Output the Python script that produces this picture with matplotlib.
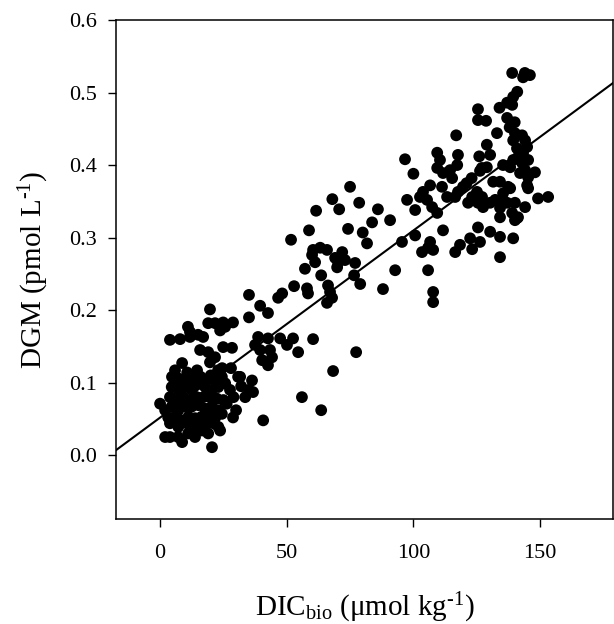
"""
DGM vs DIC_bio scatter with regression line
"""

import numpy as np
import matplotlib
matplotlib.use('Agg')
import matplotlib.pyplot as plt

# low DIC_bio cluster (x, y)
low_points = [
    (35.1, 0.221), (46.6, 0.217), (19.7, 0.201), (39.5, 0.206), (42.6, 0.196), (35.1, 0.190),
    (19.0, 0.182), (21.7, 0.182), (24.9, 0.183), (28.8, 0.183), (25.7, 0.177), (23.7, 0.172),
    (11.0, 0.177), (11.8, 0.170), (3.9, 0.159), (7.9, 0.160), (11.8, 0.163), (15.0, 0.166),
    (17.0, 0.163), (38.7, 0.163), (42.6, 0.161), (37.5, 0.152), (39.5, 0.145), (43.4, 0.145),
    (44.2, 0.135), (40.3, 0.131), (42.6, 0.124), (15.8, 0.145), (19.0, 0.142), (24.9, 0.149),
    (28.4, 0.148), (21.7, 0.135), (19.7, 0.128), (22.9, 0.117), (8.7, 0.127), (5.9, 0.117),
    (4.7, 0.108), (7.1, 0.106), (10.7, 0.114), (14.6, 0.117), (13.8, 0.106), (31.6, 0.108),
    (36.3, 0.103), (36.7, 0.087), (33.6, 0.080), (6.0, 0.100), (9.0, 0.103), (12.0, 0.100),
    (16.0, 0.108), (18.0, 0.104), (20.0, 0.110), (22.0, 0.100), (24.5, 0.120), (28.0, 0.120),
    (30.8, 0.108), (4.6, 0.094), (7.2, 0.090), (9.9, 0.094), (12.5, 0.090), (15.1, 0.099),
    (17.8, 0.094), (20.4, 0.090), (23.0, 0.094), (24.4, 0.108), (25.7, 0.099), (3.9, 0.080),
    (6.6, 0.076), (9.2, 0.080), (11.8, 0.076), (14.5, 0.080), (17.1, 0.080), (19.7, 0.080),
    (22.4, 0.078), (25.0, 0.076), (27.6, 0.090), (29.0, 0.080), (4.6, 0.067), (7.2, 0.062),
    (9.9, 0.067), (12.5, 0.067), (15.1, 0.069), (17.8, 0.064), (20.4, 0.067), (23.0, 0.062),
    (26.3, 0.071), (5.9, 0.053), (8.6, 0.048), (11.2, 0.053), (13.8, 0.051), (16.4, 0.053),
    (19.1, 0.055), (21.7, 0.051), (24.4, 0.057), (3.9, 0.044), (7.2, 0.039), (10.5, 0.044),
    (13.2, 0.039), (15.8, 0.041), (18.4, 0.044), (21.1, 0.044), (23.0, 0.039), (0.0, 0.071),
    (2.0, 0.062), (3.2, 0.052), (2.0, 0.025), (3.9, 0.025), (7.1, 0.025), (8.7, 0.018),
    (11.1, 0.030), (13.8, 0.025), (16.6, 0.034), (19.0, 0.030), (23.7, 0.034), (20.5, 0.011),
    (28.8, 0.052), (40.7, 0.048), (32.0, 0.095), (35.0, 0.090), (30.0, 0.062),
]

# middle cluster
mid_points = [
    (75.0, 0.370), (68.0, 0.353), (78.6, 0.348), (61.6, 0.337), (70.7, 0.339), (86.0, 0.339),
    (90.8, 0.324), (83.7, 0.321), (58.8, 0.310), (74.2, 0.312), (80.0, 0.307), (81.7, 0.292),
    (51.7, 0.297), (60.4, 0.283), (63.2, 0.286), (65.9, 0.283), (60.0, 0.276), (61.2, 0.266),
    (69.1, 0.272), (71.9, 0.280), (70.3, 0.266), (73.0, 0.269), (69.9, 0.259), (77.0, 0.265),
    (57.2, 0.257), (63.6, 0.248), (76.6, 0.248), (79.0, 0.236), (92.8, 0.255), (52.9, 0.233),
    (48.2, 0.223), (58.0, 0.230), (58.4, 0.223), (66.3, 0.234), (67.1, 0.225), (67.9, 0.217),
    (65.9, 0.210), (88.0, 0.229), (47.4, 0.161), (50.1, 0.152), (52.5, 0.161), (54.5, 0.142),
    (60.4, 0.160), (77.4, 0.142), (68.3, 0.116), (56.0, 0.080), (63.6, 0.062),
]

# high cluster
high_points = [
    (139.0, 0.527), (144.0, 0.527), (146.0, 0.524), (143.3, 0.521), (141.0, 0.501), (139.4, 0.494),
    (137.0, 0.486), (134.0, 0.479), (139.0, 0.483), (125.5, 0.477), (125.5, 0.462), (128.7, 0.461),
    (137.0, 0.465), (140.0, 0.459), (138.0, 0.452), (116.9, 0.441), (133.0, 0.444), (140.1, 0.444),
    (142.9, 0.441), (139.4, 0.434), (144.1, 0.434), (144.9, 0.425), (140.9, 0.423), (143.3, 0.417),
    (141.3, 0.411), (139.4, 0.407), (145.3, 0.407), (142.9, 0.403), (144.1, 0.393), (142.1, 0.389),
    (145.3, 0.383), (144.9, 0.372), (145.3, 0.368), (129.0, 0.428), (130.3, 0.414), (126.0, 0.412),
    (96.7, 0.408), (109.4, 0.417), (110.5, 0.407), (109.4, 0.396), (111.7, 0.389), (114.5, 0.393),
    (117.6, 0.414), (117.3, 0.400), (115.3, 0.382), (100.0, 0.388), (127.0, 0.396), (129.0, 0.397),
    (126.3, 0.392), (123.0, 0.382), (121.0, 0.375), (119.6, 0.370), (117.6, 0.363), (116.5, 0.356),
    (135.4, 0.400), (138.2, 0.397), (148.0, 0.390), (131.5, 0.377), (134.2, 0.377), (138.2, 0.368),
    (135.4, 0.361), (134.2, 0.349), (137.0, 0.348), (140.1, 0.348), (144.1, 0.342), (141.3, 0.328),
    (140.1, 0.324), (106.6, 0.372), (111.3, 0.370), (113.3, 0.356), (103.8, 0.363), (102.6, 0.356),
    (105.4, 0.352), (107.4, 0.342), (109.4, 0.334), (97.5, 0.352), (100.7, 0.338), (125.1, 0.363),
    (123.2, 0.356), (127.1, 0.356), (121.6, 0.348), (125.5, 0.348), (127.5, 0.342), (130.3, 0.348),
    (132.3, 0.352), (134.2, 0.341), (134.2, 0.328), (139.0, 0.334), (141.0, 0.327), (137.4, 0.370),
    (149.2, 0.354), (153.2, 0.356), (111.7, 0.310), (125.5, 0.314), (130.3, 0.308), (126.3, 0.294),
    (122.4, 0.299), (118.4, 0.290), (116.5, 0.280), (123.2, 0.284), (134.2, 0.301), (139.4, 0.299),
    (134.2, 0.273), (95.5, 0.294), (100.7, 0.303), (106.6, 0.294), (105.8, 0.286), (107.8, 0.283),
    (103.4, 0.280), (105.8, 0.255), (107.8, 0.225), (107.8, 0.211),
]

# regression line
fit_intercept = 0.0518
fit_slope = 0.00258

x_ticks = [0, 50, 100, 150]
y_ticks = [0.0, 0.1, 0.2, 0.3, 0.4, 0.5, 0.6]

plt.rcParams['font.family'] = ['Liberation Serif', 'DejaVu Serif']
plt.rcParams['mathtext.fontset'] = 'custom'
plt.rcParams['mathtext.rm'] = 'Liberation Serif'
plt.rcParams['mathtext.it'] = 'Liberation Serif:italic'

points = np.array(low_points + mid_points + high_points)

fig = plt.figure(figsize=(6.14, 6.24), dpi=100)
ax = fig.add_axes([116 / 614, 1 - 519 / 624, 497 / 614, 499 / 624])

ax.scatter(points[:, 0], points[:, 1], s=72, color='black', edgecolors='none', zorder=3)

xlim = (-17.4, 178.8)
xs = np.array(xlim)
ax.plot(xs, fit_intercept + fit_slope * xs, color='black', lw=1.5, zorder=2)

ax.set_xlim(*xlim)
ax.set_ylim(-0.088, 0.6)
ax.set_xticks(x_ticks)
ax.set_yticks(y_ticks)
ax.set_yticklabels([f'{v:.1f}' for v in y_ticks])

for s in ax.spines.values():
    s.set_linewidth(1.1)
ax.tick_params(direction='out', length=6, width=1.0, labelsize=16)
ax.tick_params(axis='x', pad=12)
ax.tick_params(axis='y', pad=8)

ax.set_xlabel('DIC$_{\\mathregular{bio}}$ (μmol kg$^{\\mathregular{\u20101}}$)', fontsize=21, labelpad=20)
ax.set_ylabel('DGM (pmol L$^{\\mathregular{\u20101}}$)', fontsize=21, labelpad=13)

fig.savefig('out.png', dpi=100)
